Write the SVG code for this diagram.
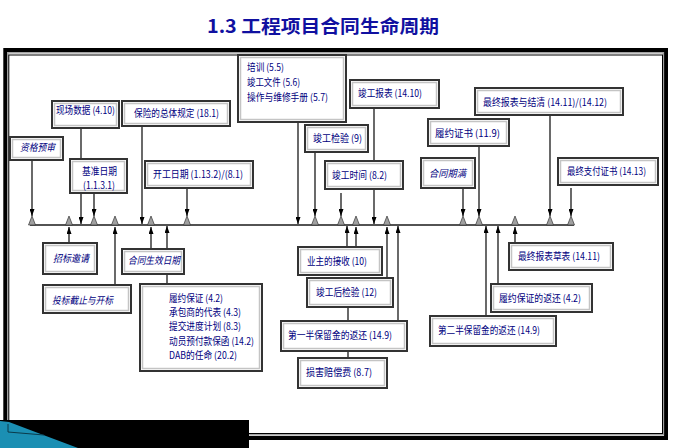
<svg xmlns="http://www.w3.org/2000/svg" width="679" height="448" viewBox="0 0 679 448">
<style>
.b{fill:#fff;stroke:#333;stroke-width:2}
.bv{fill:none;stroke:#c4c4c4;stroke-width:1.5}
.t{font-family:"Noto Sans CJK SC","Liberation Sans",sans-serif;font-size:10px;fill:#000080}
.i{font-style:italic}
.c{stroke:#1a1a1a;stroke-width:1.3;fill:none}
.a{marker-end:url(#ah)}
.tri{fill:#a0a0a0;stroke:#333;stroke-width:0.7}
</style>
<defs>
<marker id="ah" markerWidth="7" markerHeight="5" refX="7" refY="2.5" orient="auto" markerUnits="userSpaceOnUse"><path d="M0,0 L7,2.5 L0,5 z" fill="#000"/></marker>
</defs>
<rect width="679" height="448" fill="#fff"/>
<text x="323" y="33" text-anchor="middle" font-family="'Noto Sans CJK SC',sans-serif" font-size="18" font-weight="bold" fill="#1010a0" textLength="232" lengthAdjust="spacingAndGlyphs">1.3 工程项目合同生命周期</text>
<g id="frame">
<rect x="5.3" y="50" width="660.7" height="388" fill="none" stroke="#000" stroke-width="4"/>
<rect x="7.8" y="52.8" width="655.6" height="382" fill="none" stroke="#a0a0a0" stroke-width="1.5"/>
<rect x="8.8" y="55" width="653.7" height="378.5" fill="none" stroke="#000" stroke-width="1"/>
</g>
<g id="connectors">
<line class="c" x1="30" y1="225" x2="574" y2="225" stroke-width="2"/>
<line class="c a" x1="32" y1="160" x2="32" y2="216"/>
<line class="c a" x1="81" y1="128" x2="81" y2="224"/>
<line class="c a" x1="94" y1="193" x2="94" y2="216"/>
<line class="c a" x1="142" y1="126" x2="142" y2="224"/>
<line class="c a" x1="187" y1="188" x2="187" y2="216"/>
<line class="c a" x1="298" y1="122" x2="298" y2="224"/>
<line class="c a" x1="374" y1="108" x2="374" y2="224"/>
<line class="c a" x1="315" y1="152" x2="315" y2="216"/>
<line class="c a" x1="341" y1="193" x2="341" y2="216"/>
<line class="c a" x1="479" y1="146" x2="479" y2="216"/>
<line class="c a" x1="463" y1="188" x2="463" y2="216"/>
<line class="c a" x1="550" y1="115" x2="550" y2="216"/>
<line class="c a" x1="571" y1="188" x2="571" y2="216"/>
<line class="c a" x1="69" y1="243" x2="69" y2="227"/>
<line class="c a" x1="115" y1="285" x2="115" y2="227"/>
<line class="c a" x1="151" y1="249" x2="151" y2="227"/>
<line class="c a" x1="167" y1="284" x2="167" y2="226"/>
<line class="c a" x1="347" y1="247" x2="347" y2="226"/>
<line class="c a" x1="356" y1="247" x2="356" y2="227"/>
<line class="c a" x1="387" y1="278" x2="387" y2="227"/>
<line class="c a" x1="398" y1="321" x2="398" y2="226"/>
<line class="c" x1="348" y1="307" x2="348" y2="321"/>
<line class="c" x1="348" y1="351" x2="348" y2="358"/>
<line class="c a" x1="515" y1="243" x2="515" y2="227"/>
<line class="c a" x1="498" y1="284" x2="498" y2="226"/>
<line class="c a" x1="486" y1="316" x2="486" y2="226"/>
<g>
<polygon class="tri" points="28.5,225 32,216 35.5,225"/>
<polygon class="tri" points="65.5,225 69,216 72.5,225"/>
<polygon class="tri" points="90.5,225 94,216 97.5,225"/>
<polygon class="tri" points="111.5,225 115,216 118.5,225"/>
<polygon class="tri" points="147.5,225 151,216 154.5,225"/>
<polygon class="tri" points="183.5,225 187,216 190.5,225"/>
<polygon class="tri" points="311.5,225 315,216 318.5,225"/>
<polygon class="tri" points="337.5,225 341,216 344.5,225"/>
<polygon class="tri" points="352.5,225 356,216 359.5,225"/>
<polygon class="tri" points="383.5,225 387,216 390.5,225"/>
<polygon class="tri" points="459.5,225 463,216 466.5,225"/>
<polygon class="tri" points="475.5,225 479,216 482.5,225"/>
<polygon class="tri" points="511.5,225 515,216 518.5,225"/>
<polygon class="tri" points="546.5,225 550,216 553.5,225"/>
<polygon class="tri" points="567.5,225 571,216 574.5,225"/>
</g>
</g>
<g id="n-zgys"><rect class="b" x="10" y="137" width="53" height="23"/><rect class="bv" x="12.5" y="139.5" width="48" height="18"/><text class="t i" x="20" y="151" textLength="35" lengthAdjust="spacingAndGlyphs">资格预审</text></g>
<g id="n-xcsj"><rect class="b" x="52" y="101" width="67" height="27"/><rect class="bv" x="54.5" y="103.5" width="62" height="22"/><text class="t" x="56" y="114" textLength="59" lengthAdjust="spacingAndGlyphs">现场数据 (4.10)</text></g>
<g id="n-jzrq"><rect class="b" x="70" y="159" width="57" height="34"/><rect class="bv" x="72.5" y="161.5" width="52" height="29"/><text class="t" x="99.5" y="175" text-anchor="middle" textLength="35" lengthAdjust="spacingAndGlyphs">基准日期</text><text class="t" x="99" y="189" text-anchor="middle" textLength="32" lengthAdjust="spacingAndGlyphs">(1.1.3.1)</text></g>
<g id="n-bxgd"><rect class="b" x="122" y="101" width="108" height="25"/><rect class="bv" x="124.5" y="103.5" width="103" height="20"/><text class="t" x="134" y="117" textLength="85" lengthAdjust="spacingAndGlyphs">保险的总体规定 (18.1)</text></g>
<g id="n-kgrq"><rect class="b" x="145" y="161" width="108" height="27"/><rect class="bv" x="147.5" y="163.5" width="103" height="22"/><text class="t" x="153" y="178" textLength="90" lengthAdjust="spacingAndGlyphs">开工日期 (1.13.2)/(8.1)</text></g>
<g id="n-px"><rect class="b" x="238" y="55" width="108" height="67"/><rect class="bv" x="240.5" y="57.5" width="103" height="62"/><text class="t" x="247" y="71" textLength="37" lengthAdjust="spacingAndGlyphs">培训 (5.5)</text><text class="t" x="247" y="86" textLength="53" lengthAdjust="spacingAndGlyphs">竣工文件 (5.6)</text><text class="t" x="247" y="101" textLength="81" lengthAdjust="spacingAndGlyphs">操作与维修手册 (5.7)</text></g>
<g id="n-jgbb"><rect class="b" x="350" y="80" width="89" height="28"/><rect class="bv" x="352.5" y="82.5" width="84" height="23"/><text class="t" x="358" y="97" textLength="64" lengthAdjust="spacingAndGlyphs">竣工报表 (14.10)</text></g>
<g id="n-jgjy"><rect class="b" x="305" y="125" width="63" height="27"/><rect class="bv" x="307.5" y="127.5" width="58" height="22"/><text class="t" x="313" y="142" textLength="49" lengthAdjust="spacingAndGlyphs">竣工检验 (9)</text></g>
<g id="n-jgsj"><rect class="b" x="325" y="161" width="78" height="28"/><rect class="bv" x="327.5" y="163.5" width="73" height="23"/><text class="t" x="332" y="179" textLength="55" lengthAdjust="spacingAndGlyphs">竣工时间 (8.2)</text></g>
<g id="n-lyzs"><rect class="b" x="428" y="119" width="81" height="27"/><rect class="bv" x="430.5" y="121.5" width="76" height="22"/><text class="t" x="435" y="137" textLength="65" lengthAdjust="spacingAndGlyphs">履约证书 (11.9)</text></g>
<g id="n-htqm"><rect class="b" x="421" y="158" width="54" height="30"/><rect class="bv" x="423.5" y="160.5" width="49" height="25"/><text class="t i" x="429" y="177" textLength="37" lengthAdjust="spacingAndGlyphs">合同期满</text></g>
<g id="n-zzbb"><rect class="b" x="475" y="88" width="148" height="27"/><rect class="bv" x="477.5" y="90.5" width="143" height="22"/><text class="t" x="483" y="106" textLength="124" lengthAdjust="spacingAndGlyphs">最终报表与结清 (14.11)/(14.12)</text></g>
<g id="n-zfzs"><rect class="b" x="558" y="158" width="100" height="27"/><rect class="bv" x="560.5" y="160.5" width="95" height="22"/><text class="t" x="567" y="175" textLength="79" lengthAdjust="spacingAndGlyphs">最终支付证书 (14.13)</text></g>
<g id="n-zbyq"><rect class="b" x="43" y="243" width="54" height="31"/><rect class="bv" x="45.5" y="245.5" width="49" height="26"/><text class="t i" x="53" y="262" textLength="36" lengthAdjust="spacingAndGlyphs">招标邀请</text></g>
<g id="n-tbjz"><rect class="b" x="43" y="285" width="88" height="28"/><rect class="bv" x="45.5" y="287.5" width="83" height="23"/><text class="t i" x="52" y="304" textLength="61" lengthAdjust="spacingAndGlyphs">投标截止与开标</text></g>
<g id="n-htsx"><rect class="b" x="122" y="249" width="62" height="25"/><rect class="bv" x="124.5" y="251.5" width="57" height="20"/><text class="t i" x="128" y="264" textLength="52" lengthAdjust="spacingAndGlyphs">合同生效日期</text></g>
<g id="n-list"><rect class="b" x="140" y="284" width="122" height="87"/><rect class="bv" x="142.5" y="286.5" width="117" height="82"/><text class="t" x="169" y="302" textLength="54" lengthAdjust="spacingAndGlyphs">履约保证 (4.2)</text><text class="t" x="169" y="316" textLength="72" lengthAdjust="spacingAndGlyphs">承包商的代表 (4.3)</text><text class="t" x="169" y="330" textLength="72" lengthAdjust="spacingAndGlyphs">提交进度计划 (8.3)</text><text class="t" x="169" y="345" textLength="85" lengthAdjust="spacingAndGlyphs">动员预付款保函 (14.2)</text><text class="t" x="169" y="359" textLength="68" lengthAdjust="spacingAndGlyphs">DAB的任命 (20.2)</text></g>
<g id="n-yzjs"><rect class="b" x="298" y="247" width="84" height="28"/><rect class="bv" x="300.5" y="249.5" width="79" height="23"/><text class="t" x="307" y="265" textLength="60" lengthAdjust="spacingAndGlyphs">业主的接收 (10)</text></g>
<g id="n-jghjy"><rect class="b" x="307" y="278" width="86" height="29"/><rect class="bv" x="309.5" y="280.5" width="81" height="24"/><text class="t" x="316" y="296" textLength="61" lengthAdjust="spacingAndGlyphs">竣工后检验 (12)</text></g>
<g id="n-dyb"><rect class="b" x="281" y="321" width="126" height="30"/><rect class="bv" x="283.5" y="323.5" width="121" height="25"/><text class="t" x="288" y="339" textLength="104" lengthAdjust="spacingAndGlyphs">第一半保留金的返还 (14.9)</text></g>
<g id="n-shpc"><rect class="b" x="298" y="358" width="89" height="30"/><rect class="bv" x="300.5" y="360.5" width="84" height="25"/><text class="t" x="306" y="376" textLength="66" lengthAdjust="spacingAndGlyphs">损害赔偿费 (8.7)</text></g>
<g id="n-zzbbcb"><rect class="b" x="509" y="243" width="104" height="27"/><rect class="bv" x="511.5" y="245.5" width="99" height="22"/><text class="t" x="518" y="260" textLength="82" lengthAdjust="spacingAndGlyphs">最终报表草表 (14.11)</text></g>
<g id="n-lybzfh"><rect class="b" x="491" y="284" width="101" height="28"/><rect class="bv" x="493.5" y="286.5" width="96" height="23"/><text class="t" x="499" y="302" textLength="82" lengthAdjust="spacingAndGlyphs">履约保证的返还 (4.2)</text></g>
<g id="n-deb"><rect class="b" x="430" y="316" width="126" height="30"/><rect class="bv" x="432.5" y="318.5" width="121" height="25"/><text class="t" x="438" y="334" textLength="102" lengthAdjust="spacingAndGlyphs">第二半保留金的返还 (14.9)</text></g>
<g id="corner">
<rect x="0" y="420" width="249" height="28" fill="#000"/>
<polygon points="0,421 9,422 46,436 78,448 0,448" fill="#1b8fb3"/>
<polyline points="8,424 8,432 44,435" fill="none" stroke="#0a3a4a" stroke-width="1"/>
</g>
</svg>
